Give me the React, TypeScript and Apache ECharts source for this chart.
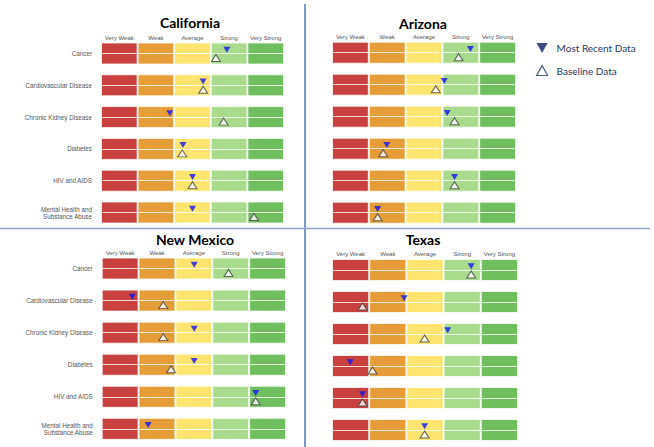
import React, { useEffect, useRef } from "react";
import * as echarts from "echarts";

const categories = [
  "Cancer",
  "Cardiovascular Disease",
  "Chronic Kidney Disease",
  "Diabetes",
  "HIV and AIDS",
  "Mental Health and\nSubstance Abuse",
];
const bands = ["Very Weak", "Weak", "Average", "Strong", "Very Strong"];
const bandSpan = [1, 1, 1, 1, 1];
const bandColors = ["#C9413F", "#E69D37", "#FFE570", "#A9DB8C", "#6FBF5F"];

const states = ["California", "Arizona", "New Mexico", "Texas"];

const caRecent = [3.44, 2.79, 1.88, 2.24, 2.5, 2.5];
const caBaseline = [3.14, 2.79, 3.35, 2.22, 2.5, 4.18];
const azRecent = [3.76, 3.05, 3.13, 1.49, 3.33, 1.24];
const azBaseline = [3.44, 2.82, 3.33, 1.39, 3.33, 1.24];
const nmRecent = [2.51, 0.83, 2.51, 2.51, 4.18, 1.26];
const nmBaseline = [3.44, 1.67, 1.67, 1.88, 4.18, null];
const txRecent = [3.74, 1.94, 3.11, 0.49, 0.82, 2.49];
const txBaseline = [3.74, 0.82, 2.49, 1.09, 0.82, 2.49];

const recentData = [caRecent, azRecent, nmRecent, txRecent];
const baselineData = [caBaseline, azBaseline, nmBaseline, txBaseline];

const grids = [
  { left: 101, top: 37.6, width: 183, height: 190.8 },
  { left: 332, top: 36.7, width: 184, height: 192 },
  { left: 101.7, top: 252.5, width: 184.3, height: 192.4 },
  { left: 332, top: 254, width: 186, height: 192 },
];
const titlePos = [
  { left: 190, top: 15 },
  { left: 423, top: 16 },
  { left: 195, top: 232 },
  { left: 423, top: 232 },
];

const RECENT_ICON = "path://M0,0L10,0L5,9Z";
const BASE_ICON = "path://M5,0L10,9L0,9Z";

export default function App() {
  const ref = useRef<HTMLDivElement>(null);
  useEffect(() => {
    if (!ref.current) return;
    const chart = echarts.init(ref.current, undefined, { renderer: "svg" });
    const xAxis: any[] = [];
    const yAxis: any[] = [];
    const series: any[] = [];
    states.forEach((s, i) => {
      xAxis.push({
        type: "value",
        gridIndex: i,
        min: 0,
        max: 5,
        show: false,
      });
      xAxis.push({
        type: "category",
        gridIndex: i,
        position: "top",
        data: bands,
        axisLine: { show: false },
        axisTick: { show: false },
        axisLabel: {
          interval: 0,
          fontSize: 6,
          color: "#555",
          fontFamily: "Liberation Sans",
          margin: -3,
        },
      });
      yAxis.push({
        type: "category",
        gridIndex: i,
        inverse: true,
        data: categories,
        axisLine: { show: false },
        axisTick: { show: false },
        axisLabel: {
          show: i % 2 === 0,
          fontSize: 6.3,
          lineHeight: 7,
          color: "#555",
          fontFamily: "Liberation Sans",
          margin: 9,
          align: "right",
        },
      });
      bands.forEach((b, k) => {
        series.push({
          type: "bar",
          name: s + " " + b,
          xAxisIndex: i * 2,
          yAxisIndex: i,
          stack: "st" + i,
          barWidth: 22,
          data: categories.map(() => bandSpan[k]),
          itemStyle: {
            color: bandColors[k],
            borderColor: "rgba(255,255,255,0.75)",
            borderWidth: 1,
          },
          emphasis: { disabled: true },
          silent: true,
        });
      });
      series.push({
        type: "lines",
        coordinateSystem: "cartesian2d",
        xAxisIndex: i * 2,
        yAxisIndex: i,
        silent: true,
        z: 4,
        lineStyle: { color: "#ffffff", width: 1, opacity: 0.8 },
        data: categories.map((_, r) => ({ coords: [[0, r], [5, r]] })),
      });
      series.push({
        type: "scatter",
        name: "Most Recent Data",
        xAxisIndex: i * 2,
        yAxisIndex: i,
        z: 6,
        symbol: RECENT_ICON,
        symbolSize: [7, 6],
        symbolOffset: [0, -3.8],
        itemStyle: { color: "#1414F0" },
        data: recentData[i].map((v, r) => (v == null ? null : [v, r])).filter((d) => d),
      });
      series.push({
        type: "scatter",
        name: "Baseline Data",
        xAxisIndex: i * 2,
        yAxisIndex: i,
        z: 6,
        symbol: BASE_ICON,
        symbolSize: [9, 7],
        symbolOffset: [0, 4.5],
        itemStyle: { color: "#ffffff", borderColor: "#404040", borderWidth: 1 },
        data: baselineData[i].map((v, r) => (v == null ? null : [v, r])).filter((d) => d),
      });
    });

    chart.setOption({
      animation: false,
      backgroundColor: "#ffffff",
      title: states.map((s, i) => ({
        text: s,
        left: titlePos[i].left,
        top: titlePos[i].top,
        textAlign: "center",
        padding: 0,
        textStyle: {
          fontSize: 14,
          fontWeight: "bold",
          color: "#000",
          fontFamily: "Lato",
        },
      })),
      grid: grids,
      xAxis,
      yAxis,
      legend: {
        left: 531,
        top: 38,
        orient: "vertical",
        itemWidth: 11,
        itemHeight: 11,
        itemGap: 12,
        textStyle: {
          fontSize: 10,
          color: "#1F3864",
          fontFamily: "Lato",
          padding: [0, 0, 0, 4],
        },
        data: [
          { name: "Most Recent Data", icon: RECENT_ICON, itemStyle: { color: "#0C1F5E" } },
          {
            name: "Baseline Data",
            icon: BASE_ICON,
            itemStyle: { color: "#ffffff", borderColor: "#1F3864", borderWidth: 1.2 },
          },
        ],
      },
      graphic: [
        {
          type: "line",
          shape: { x1: 305, y1: 4, x2: 305, y2: 447 },
          style: { stroke: "#4A78C2", lineWidth: 1.5 },
          silent: true,
        },
        {
          type: "line",
          shape: { x1: 0, y1: 228.5, x2: 650, y2: 228.5 },
          style: { stroke: "#8FA6CF", lineWidth: 1.5 },
          silent: true,
        },
      ],
      series,
    });
    return () => chart.dispose();
  }, []);
  return (
    <div
      ref={ref}
      style={{ position: "fixed", left: 0, top: 0, width: 654, height: 447 }}
    />
  );
}
